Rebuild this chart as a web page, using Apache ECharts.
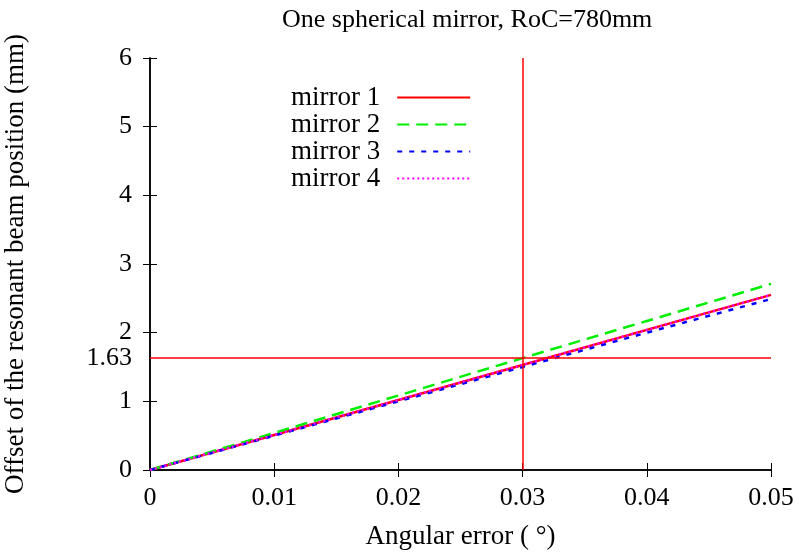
<!DOCTYPE html>
<html>
<head>
<meta charset="utf-8">
<script src="https://cdn.jsdelivr.net/npm/echarts@6/dist/echarts.min.js"></script>
<style>
  html, body { margin: 0; padding: 0; background: #fff; }
  #chart { width: 800px; height: 554px; }
</style>
</head>
<body>
<div id="chart"></div>
<script>
// angular error (deg)
const angles = [0, 0.01, 0.02, 0.03, 0.04, 0.05];
// offset of the resonant beam position (mm)
const mirror1 = [0, 0.51, 1.02, 1.53, 2.04, 2.55];
const mirror2 = [0, 0.54, 1.085, 1.63, 2.17, 2.71];
const mirror3 = [0, 0.50, 1.00, 1.50, 2.00, 2.49];
const mirror4 = [0, 0.51, 1.02, 1.53, 2.04, 2.55];
const seriesNames = ['mirror 1', 'mirror 2', 'mirror 3', 'mirror 4'];
// reference lines
const refAngle = 0.03;
const refOffset = 1.63;

const FONT = 'Liberation Serif';
const FS = 26;
const chart = echarts.init(document.getElementById('chart'));

const pairs = ys => angles.map((x, i) => [x, ys[i]]);

const xFmt = v => (v === 0 ? '0' : v.toFixed(2));

const styles = [
    { color: '#ff0000', type: 'solid' },
    { color: '#00ee00', type: [12, 7] },
    { color: '#0000ff', type: [5, 7] },
    { color: '#ff00ff', type: [2, 3] },
];

const baseX = {
    type: 'value',
    min: 0,
    max: 0.05,
    interval: 0.01,
    splitLine: { show: false },
    axisLine: { lineStyle: { color: '#000', width: 1.5 } },
    axisTick: { inside: true, length: 7, lineStyle: { color: '#000' } },
};
const baseY = {
    type: 'value',
    min: 0,
    max: 6,
    interval: 1,
    splitLine: { show: false },
    axisLine: { show: true, lineStyle: { color: '#000', width: 1.5 } },
    axisTick: { show: true, inside: true, length: 7, lineStyle: { color: '#000' } },
};

chart.setOption({
    backgroundColor: '#fff',
    animation: false,
    textStyle: { fontFamily: FONT },
    title: {
        text: 'One spherical mirror, RoC=780mm',
        left: 277,
        top: 2,
        textStyle: { fontFamily: FONT, fontSize: 26, fontWeight: 'normal', color: '#000' },
    },
    grid: { left: 150, right: 29, top: 58, bottom: 84, outerBoundsMode: 'none', containLabel: false },
    legend: {
        orient: 'vertical',
        left: 286,
        top: 79,
        align: 'right',
        itemWidth: 73,
        itemHeight: 14,
        itemGap: 0,
        data: seriesNames,
        itemStyle: { opacity: 0 },
        textStyle: { fontFamily: FONT, fontSize: 27, color: '#000', padding: [0, 12, 0, 0] },
    },
    xAxis: [
        {
            ...baseX,
            position: 'bottom',
            name: 'Angular error ( °)',
            nameLocation: 'middle',
            nameGap: 53,
            nameTextStyle: { fontFamily: FONT, fontSize: 27, color: '#000' },
            axisLabel: { formatter: xFmt, margin: 15, fontFamily: FONT, fontSize: FS, color: '#000' },
        },
        { ...baseX, position: 'top', axisLabel: { show: false } },
    ],
    yAxis: [
        {
            ...baseY,
            position: 'left',
            name: 'Offset of the resonant beam position (mm)',
            nameLocation: 'middle',
            nameGap: 121,
            nameTextStyle: { fontFamily: FONT, fontSize: 27, color: '#000' },
            axisLabel: { margin: 18, fontFamily: FONT, fontSize: FS, color: '#000' },
        },
        { ...baseY, position: 'right', axisLabel: { show: false } },
    ],
    series: [mirror1, mirror2, mirror3, mirror4].map((ys, i) => ({
        name: seriesNames[i],
        type: 'line',
        data: pairs(ys),
        symbol: 'none',
        color: styles[i].color,
        lineStyle: { color: styles[i].color, width: 2.5, type: styles[i].type },
        markLine: i === 0 ? {
            silent: true,
            symbol: 'none',
            lineStyle: { color: '#ff0000', width: 1.5, type: 'solid' },
            data: [
                { xAxis: refAngle, label: { show: false } },
                {
                    yAxis: refOffset,
                    label: {
                        show: true,
                        position: 'start',
                        distance: 18,
                        formatter: String(refOffset),
                        fontFamily: FONT,
                        fontSize: FS,
                        color: '#000',
                    },
                },
            ],
        } : undefined,
    })),
});
</script>
</body>
</html>
